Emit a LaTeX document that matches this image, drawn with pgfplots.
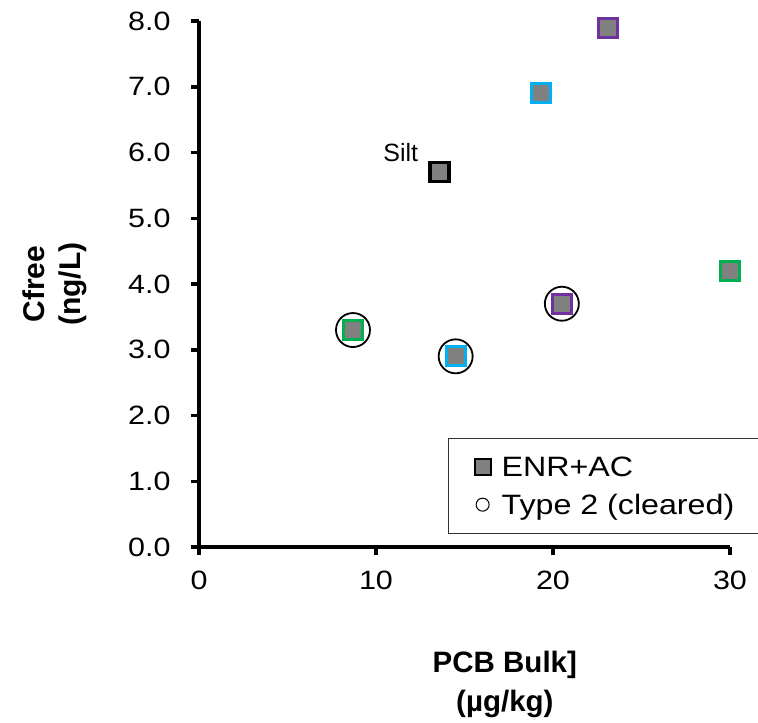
\documentclass[border=0pt]{standalone}
\usepackage{pgfplots}
\pgfplotsset{compat=1.18}
\usepackage{fontspec}
\setmainfont{Liberation Sans}
\newfontfamily\widefont{Liberation Sans}[FakeStretch=1.15]

\definecolor{mgray}{HTML}{808080}
\definecolor{mgreen}{HTML}{00B050}
\definecolor{mblue}{HTML}{00B0F0}
\definecolor{mpurple}{HTML}{7030A0}

\begin{document}
\begin{tikzpicture}
\begin{axis}[
  scale only axis, width=531pt, height=526pt,
  xmin=0, xmax=30, ymin=0, ymax=8,
  axis x line*=bottom, axis y line*=left,
  axis line style={line width=3.5pt, black},
  xtick={0,10,20,30}, ytick={0,1,...,8},
  tick align=outside, major tick length=8pt,
  tick style={line width=3.5pt, black},
  /pgf/number format/assume math mode=true,
  ticklabel style={font=\widefont\fontsize{26.5}{31}\selectfont},
  x tick label style={yshift=-12pt},
  y tick label style={xshift=-17pt, /pgf/number format/.cd, fixed, fixed zerofill, precision=1},
  xlabel={PCB Bulk]\\(µg/kg)},
  ylabel={Cfree\\(ng/L)},
  xlabel style={font=\fontsize{29.5}{39}\selectfont\bfseries, align=center,
    at={(axis description cs:0.576,-0.262)}, anchor=center},
  ylabel style={font=\fontsize{30}{36}\selectfont\bfseries, align=center,
    at={(axis description cs:-0.271,0.5)}, anchor=center, rotate=0},
  clip=false,
  legend style={at={(axis description cs:0.469,0.207)}, anchor=north west,
    draw=black!80, line width=1.2pt, font=\widefont\fontsize{28}{33}\selectfont,
    inner xsep=26pt, inner ysep=16pt, row sep=12pt,
    /tikz/every odd column/.append style={column sep=9pt}},
  legend cell align=left,
]
% coloured squares (ENR+AC)
\addplot[forget plot, only marks, mark=square*, mark size=9.5pt,
  mark options={draw=mgreen, fill=mgray, line width=3pt}] coordinates {(8.7,3.3) (30.0,4.2)};
\addplot[forget plot, only marks, mark=square*, mark size=9.5pt,
  mark options={draw=mblue, fill=mgray, line width=3pt}] coordinates {(14.5,2.9) (19.3,6.9)};
\addplot[forget plot, only marks, mark=square*, mark size=9.5pt,
  mark options={draw=mpurple, fill=mgray, line width=3pt}] coordinates {(20.5,3.7) (23.1,7.9)};
% silt
\addplot[only marks, mark=square*, mark size=9.5pt,
  mark options={draw=black, fill=mgray, line width=3.5pt},
  legend image code/.code={\draw[mark=square*, mark size=8pt,
    mark options={draw=black, fill=mgray, line width=2pt}] plot coordinates {(0.3cm,0cm)};}]
  coordinates {(13.6,5.7)};
\addlegendentry{ENR+AC}
% cleared circles
\addplot[only marks, mark=o, mark size=17pt, mark options={draw=black, line width=1.8pt},
  legend image code/.code={\draw[mark=o, mark size=6.5pt,
    mark options={draw=black, line width=1pt}] plot coordinates {(0.3cm,0cm)};}]
  coordinates {(8.7,3.3) (14.5,2.9) (20.5,3.7)};
\addlegendentry{Type 2 (cleared)\hspace*{32pt}}
\node[font=\fontsize{25}{29}\selectfont] at (axis cs:11.4,6.0) {Silt};
\end{axis}
\pgfresetboundingbox
\useasboundingbox (-199pt,-176pt) rectangle (559pt,547pt);
\end{tikzpicture}
\end{document}
